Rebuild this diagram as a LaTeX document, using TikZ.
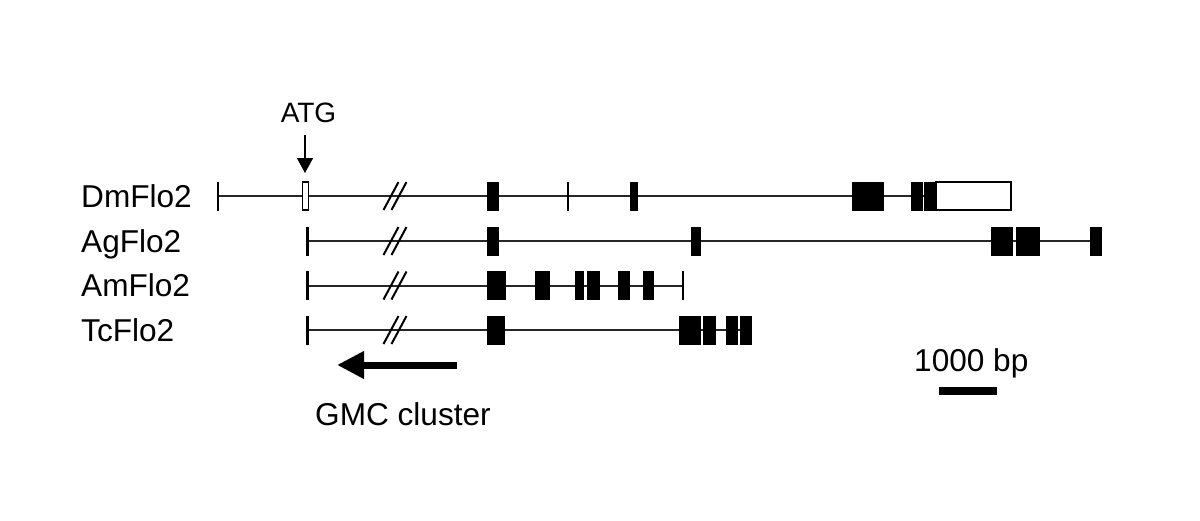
\documentclass[tikz,border=0pt]{standalone}
\usepackage{fontspec}
\setmainfont{Liberation Sans}
\usetikzlibrary{arrows.meta}
\newcommand{\exon}[3]{\fill[black] ({#2},{#1-14.5}) rectangle ({#3},{#1+14.5});}
\newcommand{\gtick}[3][2.8]{\draw[line width=#1pt] ({#3},{#2-14.5}) -- ({#3},{#2+14.5});}
\newcommand{\brk}[1]{\draw[line width=2pt] (383.5,{#1+14}) -- (398.5,{#1-14}) (391.5,{#1+14}) -- (406.5,{#1-14});}
\begin{document}
\begin{tikzpicture}[x=1pt,y=-1pt,
  lab/.style={font=\fontsize{31.6}{36}\selectfont, inner sep=0pt, anchor=base west},
  gline/.style={line width=2pt, draw=black!85}]
\useasboundingbox (0,0) rectangle (1200,520);
\fill[white] (0,0) rectangle (1200,520);
% labels
\node[lab] (ldm) at (81,207) {DmFlo2};
\node[lab] (lag) at (81,252) {AgFlo2};
\node[lab] (lam) at (81,296.5) {AmFlo2};
\node[lab] (ltc) at (81,341) {TcFlo2};
% gene lines
\draw[gline] (218,196) -- (936,196);
\draw[gline] (308,241) -- (1102,241);
\draw[gline] (308,285.5) -- (683,285.5);
\draw[gline] (308,330) -- (752,330);
% DmFlo2
\gtick{196}{218}
\gtick[2.2]{196}{568.3}
\draw[line width=1.3pt, fill=white] (302.3,182) rectangle (308.8,210);
\exon{196}{487}{498.5}
\exon{196}{630}{637.5}
\exon{196}{852}{883.5}
\exon{196}{911}{923}
\exon{196}{924}{936}
\draw[line width=1.3pt, fill=white] (936,182) rectangle (1011,210);
\brk{196}
% AgFlo2
\gtick{241}{307.5}
\exon{241}{487}{499}
\exon{241}{691}{700.5}
\exon{241}{991}{1013}
\exon{241}{1016}{1040}
\exon{241}{1090}{1102}
\brk{241}
% AmFlo2
\gtick{285.5}{307.5}
\exon{285.5}{487}{506}
\exon{285.5}{534.5}{549.5}
\exon{285.5}{575}{584}
\exon{285.5}{586.5}{600}
\exon{285.5}{617.5}{629.5}
\exon{285.5}{642.5}{653.5}
\gtick[2.2]{285.5}{683}
\brk{285.5}
% TcFlo2
\gtick{330}{307.5}
\exon{330}{487}{505}
\exon{330}{679}{700.5}
\exon{330}{702.5}{715.5}
\exon{330}{726}{738}
\exon{330}{740}{751.5}
\brk{330}
% ATG
\node[font=\fontsize{28}{32}\selectfont, inner sep=0pt, anchor=base] (atg) at (308.5,122.3) {ATG};
\coordinate (atgtip) at (305,173);
\draw[line width=1.6pt, -{Triangle[width=16pt,length=15pt]}] (305,135) -- (atgtip);
% GMC cluster arrow
\coordinate (gmcs) at (457,365);
\coordinate (gmce) at (337,365);
\draw[line width=7pt, -{Triangle[width=26pt,length=27pt]}] (gmcs) -- (gmce);
\node[lab] (gmc) at (315,425) {GMC cluster};
% scale bar
\node[lab] (bp) at (914,371.5) {1000 bp};
\fill[black] (939,387) rectangle (997,395);
\end{tikzpicture}
\end{document}
